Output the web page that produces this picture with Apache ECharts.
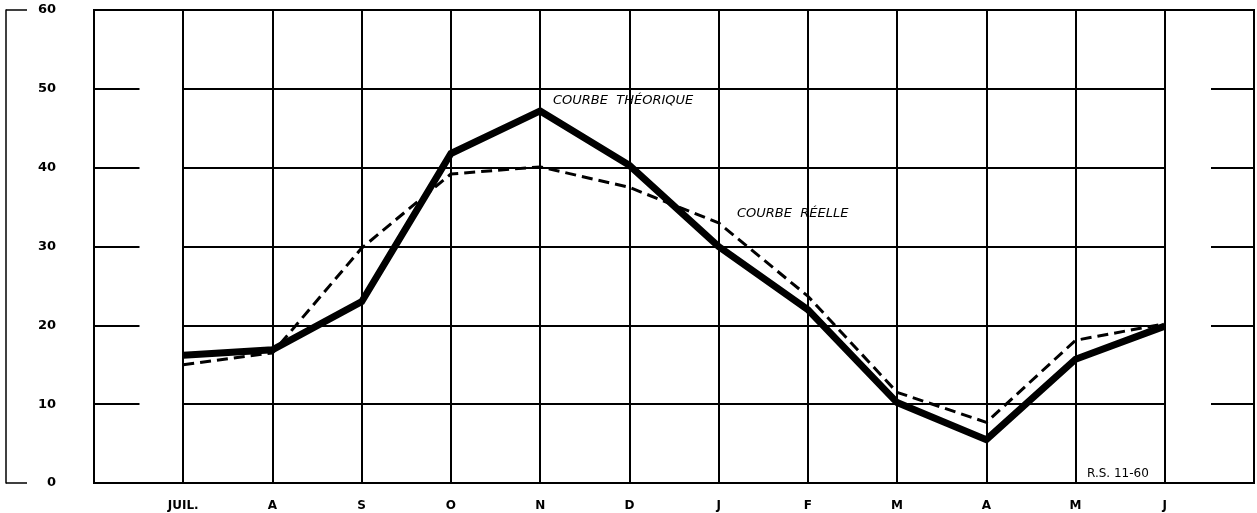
<!DOCTYPE html>
<html>
<head>
<meta charset="utf-8">
<script src="https://cdn.jsdelivr.net/npm/echarts@6/dist/echarts.min.js"></script>
<style>
  html, body { margin: 0; padding: 0; background: #fff; }
  #chart { width: 1257px; height: 513px; }
</style>
</head>
<body>
<div id="chart"></div>
<script>
// months of the year shown on the axis (index 0 = JUIL.)
var months = ['JUIL.', 'A', 'S', 'O', 'N', 'D', 'J', 'F', 'M', 'A', 'M', 'J']
var theorique = [16.2, 16.9, 23, 41.8, 47.2, 40.3, 30, 22, 10.2, 5.5, 15.7, 19.9]
var reelle = [15, 16.5, 29.8, 39.2, 40.1, 37.5, 33, 23.7, 11.5, 7.7, 18.1, 20.2]
var yTicks = [0, 10, 20, 30, 40, 50, 60]
var innerLines = [10, 20, 30, 40, 50]

var chart = echarts.init(document.getElementById('chart'))

var font = 'DejaVu Sans'
var ink = '#000'

function pairs(arr) {
  return arr.map(function (v, i) { return [i, v] })
}

// full grid lines between first and last month
var gridMarks = innerLines.map(function (v) {
  return [{ coord: [0, v] }, { coord: [months.length - 1, v] }]
})
// short stubs on the left side of the frame
var leftStubs = innerLines.map(function (v) {
  return [{ coord: [-1, v] }, { coord: [-0.49, v] }]
})

var option = {
  backgroundColor: '#fff',
  animation: false,
  grid: {
    left: 94,
    right: 1,
    top: 10,
    bottom: 30,
    show: true,
    borderColor: ink,
    borderWidth: 2
  },
  xAxis: {
    type: 'value',
    min: -1,
    max: months.length,
    interval: 1,
    axisLine: { lineStyle: { color: ink, width: 2 } },
    axisTick: { show: false },
    splitLine: { show: true, lineStyle: { color: ink, width: 2 } },
    axisLabel: {
      margin: 17,
      fontFamily: font,
      fontWeight: 'bold',
      fontSize: 12,
      color: ink,
      showMinLabel: true,
      showMaxLabel: true,
      formatter: function (v) { return months[v] || '' }
    }
  },
  yAxis: [
    {
      type: 'value',
      position: 'left',
      min: yTicks[0],
      max: yTicks[yTicks.length - 1],
      interval: 10,
      axisLine: { show: true, lineStyle: { color: ink, width: 2 } },
      axisTick: { show: false },
      splitLine: { show: false },
      axisLabel: {
        margin: 38,
        fontFamily: font,
        fontWeight: 'bold',
        fontSize: 13,
        color: ink
      }
    },
    {
      type: 'value',
      position: 'right',
      min: 0,
      max: 60,
      interval: 10,
      axisLine: { show: true, lineStyle: { color: ink, width: 2 } },
      axisTick: { show: true, inside: true, length: 43, lineStyle: { color: ink, width: 2 } },
      splitLine: { show: false },
      axisLabel: { show: false }
    },
    {
      // bracket on the far left
      type: 'value',
      position: 'left',
      offset: 88,
      min: 0,
      max: 60,
      interval: 60,
      axisLine: { show: true, lineStyle: { color: ink, width: 1.5 } },
      axisTick: { show: true, inside: true, length: 21, lineStyle: { color: ink, width: 1.5 } },
      splitLine: { show: false },
      axisLabel: { show: false }
    }
  ],
  series: [
    {
      name: 'COURBE RÉELLE',
      type: 'line',
      data: pairs(reelle),
      symbol: 'none',
      z: 3,
      lineStyle: { color: ink, width: 3, type: [11, 6] },
      markLine: {
        silent: true,
        symbol: 'none',
        label: { show: false },
        lineStyle: { color: ink, width: 2, type: 'solid' },
        data: gridMarks.concat(leftStubs)
      }
    },
    {
      name: 'COURBE THÉORIQUE',
      type: 'line',
      data: pairs(theorique),
      symbol: 'none',
      z: 4,
      lineStyle: { color: ink, width: 7, join: 'miter' }
    }
  ],
  graphic: [
    {
      type: 'text',
      left: 553,
      top: 94,
      style: { text: 'COURBE  THÉORIQUE', fontFamily: font, fontSize: 13, fontStyle: 'italic', fill: ink }
    },
    {
      type: 'text',
      left: 737,
      top: 207,
      style: { text: 'COURBE  RÉELLE', fontFamily: font, fontSize: 13, fontStyle: 'italic', fill: ink }
    },
    {
      type: 'text',
      left: 1087,
      top: 468,
      style: { text: 'R.S. 11-60', fontFamily: font, fontSize: 12, fill: ink }
    }
  ]
}

chart.setOption(option)
</script>
</body>
</html>
